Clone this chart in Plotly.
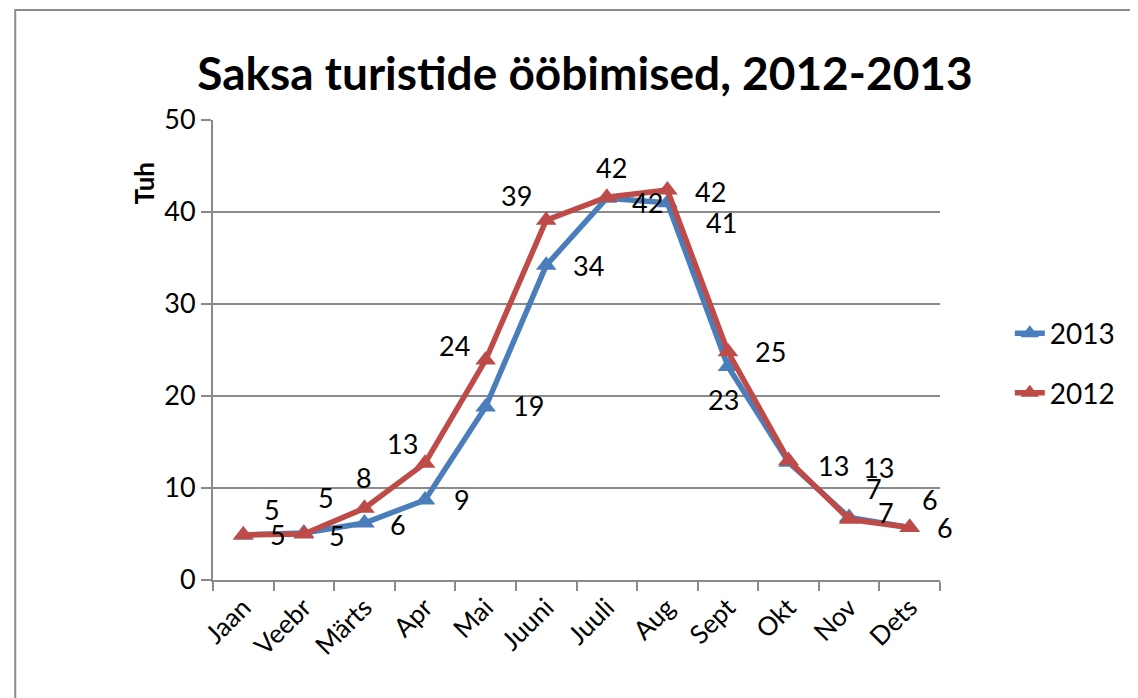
import plotly.graph_objects as go

months = ["Jaan", "Veebr", "Märts", "Apr", "Mai", "Juuni", "Juuli", "Aug", "Sept", "Okt", "Nov", "Dets"]
y2013 = [4.9, 5.1, 6.2, 8.7, 18.8, 34.2, 41.5, 41.0, 23.2, 12.8, 6.8, 5.7]
y2012 = [4.9, 5.0, 7.8, 12.7, 23.9, 39.1, 41.6, 42.4, 24.8, 13.0, 6.6, 5.7]

# label offsets in pixels (dx, dy with screen-down positive)
off2013 = [(35, 0), (33, 2), (34, 2), (37, 0), (43, -2), (42, 0), (41, 4), (54, 20), (-4, 33), (45, 3), (37, -5), (35, 0)]
off2012 = [(29, -25), (22, -37), (0, -31), (-23, -20), (-31, -15), (-30, -25), (5, -30), (43, 2), (43, 0), (90, 7), (25, -31), (20, -28)]

BLUE = "#4a7ebb"
RED = "#be4b48"
GRAY = "#8a8a8a"
FONT = "Lato"

fig = go.Figure()
for name, ys, col in [("2013", y2013, BLUE), ("2012", y2012, RED)]:
    fig.add_trace(go.Scatter(
        x=months, y=ys, name=name, mode="lines+markers",
        line=dict(color=col, width=5.5),
        marker=dict(symbol="triangle-up", size=18, color=col),
        legendgroup=name,
    ))

annotations = []
for ys, offs in [(y2013, off2013), (y2012, off2012)]:
    for m, v, (dx, dy) in zip(months, ys, offs):
        annotations.append(dict(
            x=m, y=v, xref="x", yref="y", text=f"{v:.0f}", showarrow=False,
            xshift=dx, yshift=-dy, font=dict(family=FONT, size=27, color="black"),
        ))

annotations.append(dict(
    x=-0.121, y=0.913, xref="paper", yref="paper", text="<b>Tuh</b>", showarrow=False,
    textangle=-90, font=dict(family=FONT, size=26, color="black"),
))

fig.update_layout(
    width=1138, height=698,
    margin=dict(l=205, r=206, t=112, b=126),
    paper_bgcolor="white", plot_bgcolor="white",
    title=dict(text="<b>Saksa turistide ööbimised, 2012-2013</b>", x=0.507, xanchor="center",
               y=0.905, yanchor="middle", font=dict(family=FONT, size=46, color="black")),
    font=dict(family=FONT, size=27, color="black"),
    legend=dict(x=1.096, y=0.59, xanchor="left", yanchor="top", font=dict(size=28),
                tracegroupgap=20, traceorder="grouped", bgcolor="rgba(0,0,0,0)"),
    annotations=annotations,
    shapes=[dict(type="rect", xref="paper", yref="paper", x0=-0.272, x1=1.3, y0=-0.3, y1=1.239,
                 line=dict(color=GRAY, width=2))],
    showlegend=True,
)
fig.update_xaxes(
    type="category", showgrid=False, showline=True, linecolor=GRAY, linewidth=2,
    ticks="outside", ticklen=9, tickcolor=GRAY, tickwidth=2, tickangle=-45,
    tickson="boundaries", tickfont=dict(size=26), range=[-0.5, 11.5],
)
fig.update_yaxes(
    range=[0, 50], dtick=10, showgrid=True, gridcolor=GRAY, gridwidth=2,
    showline=True, linecolor=GRAY, linewidth=2, ticks="outside", ticklen=10,
    tickcolor=GRAY, tickwidth=2, tickfont=dict(size=27), zeroline=False,
)
fig.write_html("out.html")
